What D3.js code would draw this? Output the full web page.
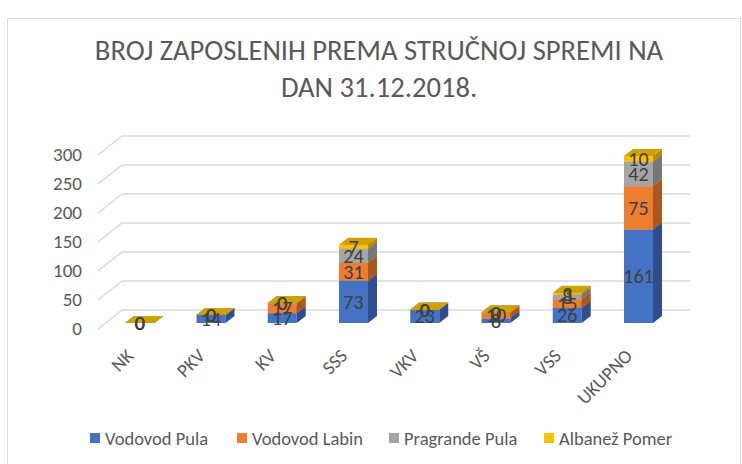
<!DOCTYPE html>
<html><head><meta charset="utf-8">
<script src="https://cdn.jsdelivr.net/npm/d3@7"></script>
<style>body{margin:0;background:#fff;} svg{display:block;}</style>
</head><body>
<svg id="c" width="742" height="464"></svg>
<script>
const categories = ["NK","PKV","KV","SSS","VKV","VŠ","VSS","UKUPNO"];
const seriesNames = ["Vodovod Pula","Vodovod Labin","Pragrande Pula","Albanež Pomer"];
const vodovodPula   = [0,14,17,73,23,8,26,161];
const vodovodLabin  = [0,0,17,31,0,10,15,75];
const pragrandePula = [0,0,0,24,0,0,8,42];
const albanezPomer  = [0,0,0,7,0,0,3,10];
const yTicks = [0,50,100,150,200,250,300];
const titleLines = ["BROJ ZAPOSLENIH PREMA STRUČNOJ SPREMI NA","DAN 31.12.2018."];

const seriesValues = [vodovodPula, vodovodLabin, pragrandePula, albanezPomer];
const fronts = ["#4472C4","#ED7D31","#A5A5A5","#FFC000"];
const sides  = ["#2E4F8C","#A9581F","#767676","#B88A00"];
const tops   = ["#3F68B4","#D56F27","#939393","#CFA200"];

const FONT = "Carlito, 'Liberation Sans Narrow', 'Liberation Sans', sans-serif";
const svg = d3.select("#c");

// border
svg.append("rect").attr("x",7.5).attr("y",18.5).attr("width",733).attr("height",460)
  .attr("fill","none").attr("stroke","#D9D9D9").attr("stroke-width",1);

// title
svg.append("g").selectAll("text").data(titleLines).join("text")
  .attr("x",379).attr("y",(d,i)=>60+i*37).attr("text-anchor","middle")
  .attr("font-family",FONT).attr("font-size",28.6).attr("fill","#595959").text(d=>d);

// scales
const y = d3.scaleLinear().domain([0,300]).range([329,155]);
const DX = 24, DY = 19;       // floor depth offset
const barShift = 6;           // bar front is 6px above front plane
const bx = 9, by = 7;         // bar depth
const x = d3.scalePoint().domain(categories).range([139.75,638.5]);
const bw = 29;

// gridlines
const grid = svg.append("g");
yTicks.forEach(t=>{
  const yy = y(t);
  grid.append("path")
    .attr("d",`M98,${yy}L${98+DX},${yy-DY}L690,${yy-DY}`)
    .attr("fill","none").attr("stroke","#D9D9D9").attr("stroke-width",1.5);
});
// y labels
svg.append("g").selectAll("text").data(yTicks).join("text")
  .attr("x",82).attr("y",d=>y(d)+6).attr("text-anchor","end")
  .attr("font-family",FONT).attr("font-size",19).attr("fill","#595959").text(d=>d);

// bars
const hb = v => y(v) - barShift; // front y for bar value
const bars = svg.append("g");
const labels = [];
categories.forEach((c,ci)=>{
  let cum = 0;
  const xl = x(c) - bw/2, xr = x(c) + bw/2;
  seriesValues.forEach((arr,si)=>{
    const v = arr[ci];
    const y0 = hb(cum), y1 = hb(cum+v);
    bars.append("rect").attr("x",xl).attr("y",y1).attr("width",bw).attr("height",Math.max(0,y0-y1))
      .attr("fill",fronts[si]);
    bars.append("path").attr("d",`M${xr},${y0}L${xr+bx},${y0-by}L${xr+bx},${y1-by}L${xr},${y1}Z`)
      .attr("fill",sides[si]);
    bars.append("path").attr("d",`M${xl},${y1}L${xl+bx},${y1-by}L${xr+bx},${y1-by}L${xr},${y1}Z`)
      .attr("fill",tops[si]);
    labels.push({x:x(c), y:(y0+y1)/2, v});
    cum += v;
  });
});
svg.append("g").selectAll("text").data(labels).join("text")
  .attr("x",d=>d.x).attr("y",d=>d.y+7).attr("text-anchor","middle")
  .attr("font-family",FONT).attr("font-size",20).attr("fill","#404040").text(d=>d.v);

// category labels
svg.append("g").selectAll("text").data(categories).join("text")
  .attr("transform",d=>`translate(${x(d)-5},${357}) rotate(-45)`)
  .attr("text-anchor","end").attr("font-family",FONT).attr("font-size",19).attr("fill","#595959").text(d=>d);

// legend
const legX = [90,237,389,544];
const leg = svg.append("g");
seriesNames.forEach((n,i)=>{
  leg.append("rect").attr("x",legX[i]).attr("y",433).attr("width",10).attr("height",10).attr("fill",fronts[i]);
  leg.append("text").attr("x",legX[i]+15).attr("y",445).attr("font-family",FONT).attr("font-size",18.5)
    .attr("fill","#595959").text(n);
});
</script>
</body></html>
